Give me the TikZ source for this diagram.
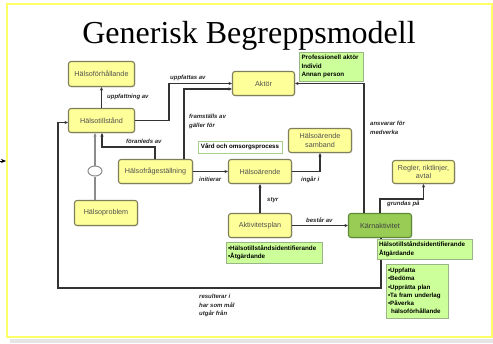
\documentclass[tikz,border=0pt]{standalone}
\usepackage{fontspec}
\setmainfont{Liberation Serif}
\newfontfamily\sansf{Liberation Sans}
\usetikzlibrary{arrows.meta,shadows,calc,shapes.geometric}
\definecolor{boxfill}{HTML}{FFFF99}
\definecolor{boxline}{HTML}{7F7F5A}
\definecolor{boxtext}{HTML}{505050}
\definecolor{kfill}{HTML}{99CC55}
\definecolor{kline}{HTML}{5E8A35}
\definecolor{gfill}{HTML}{CCFF99}
\definecolor{gline}{HTML}{9AB585}
\definecolor{vline}{HTML}{A6D08A}
\definecolor{frame}{HTML}{FFFF66}
\definecolor{conncol}{HTML}{333333}
\definecolor{graycol}{HTML}{8C8C8C}
\begin{document}
\begin{tikzpicture}[x=1pt,y=-1pt,
  ybox/.style={draw=boxline, line width=1.1pt, rounded corners=2.5pt, fill=boxfill,
    drop shadow={shadow xshift=0.8pt, shadow yshift=-0.8pt, opacity=0.25},
    font=\sansf\fontsize{7.2}{8.5}\selectfont, text=boxtext, inner sep=1pt, align=center},
  kbox/.style={ybox, draw=kline, fill=kfill, text=black!75},
  gbox/.style={draw=gline, line width=0.8pt, fill=gfill, inner xsep=2pt, inner ysep=1pt,
    font=\sansf\bfseries\fontsize{6.3}{8.4}\selectfont, text=black, align=left, anchor=center},
  vbox/.style={draw=vline, line width=1pt, fill=white, inner sep=1pt,
    font=\sansf\bfseries\fontsize{6.2}{7}\selectfont, text=black},
  conn/.style={draw=conncol, line width=1.1pt, -{Stealth[length=3.5pt,width=3.2pt]}},
  gconn/.style={draw=graycol, line width=1.1pt},
  lbl/.style={font=\sansf\bfseries\itshape\fontsize{6}{8.5}\selectfont, text=black!85, inner sep=0pt, align=left}
]
\useasboundingbox (0,0) rectangle (493,343);
\fill[white] (0,0) rectangle (493,343);
% shadow under frame
\fill[black!10] (10,339) rectangle (493,343);
\draw[frame, line width=2pt] (7,3.5) rectangle (491.5,337);
% stray arrow at left edge
\coordinate (la) at (0,161);
\coordinate (lb) at (6,161);
\draw[draw=black, line width=0.6pt, -{Stealth[length=5pt,width=4pt]}] (la) -- (lb);

% title
\node[anchor=base, font=\fontsize{32}{36}\selectfont, inner sep=0pt] (title) at (249,43) {Generisk Begreppsmodell};

% yellow boxes
\node[ybox, minimum width=66pt, minimum height=25pt] (hf) at (101.5,74) {Hälsoförhållande};
\node[ybox, minimum width=66pt, minimum height=24pt] (ht) at (101.5,120.5) {Hälsotillstånd};
\node[ybox, minimum width=62pt, minimum height=24pt] (ak) at (263.5,83.5) {Aktör};
\node[ybox, minimum width=63pt, minimum height=24pt] (hs) at (320,140.5) {Hälsoärende\\samband};
\node[ybox, minimum width=74pt, minimum height=24pt] (hq) at (155.5,171.5) {Hälsofrågeställning};
\node[ybox, minimum width=63pt, minimum height=24pt] (ha) at (260,171.5) {Hälsoärende};
\node[ybox, minimum width=63pt, minimum height=25pt] (hp) at (106,213) {Hälsoproblem};
\node[ybox, minimum width=63pt, minimum height=24pt] (ap) at (260,225.5) {Aktivitetsplan};
\node[kbox, minimum width=63pt, minimum height=24pt] (ka) at (380,225.5) {Kärnaktivitet};
\node[ybox, minimum width=62pt, minimum height=23pt] (rg) at (423.5,172) {Regler, riktlinjer,\\avtal};

% ellipse
\node[draw=graycol, line width=1pt, fill=white, ellipse, minimum width=14pt, minimum height=10pt, inner sep=0pt] (el) at (95,171) {};

% connectors
\draw[conn] (ht.north) -- (hf.south);
\node[lbl, anchor=west] (l1) at (107,97) {uppfattning av};

\draw[conn] (ht.east) -- (169,120.5) |- (ak.west);
\node[lbl, anchor=west] (l2) at (170,78) {uppfattas av};

\draw[conn] ([xshift=28.5pt]hq.north) |- ([yshift=-5.5pt]ak.west);
\node[lbl, anchor=north west] (l3) at (189,114) {framställs av\\gäller för};

\draw[conn] ([xshift=-0.5pt]hq.north) -- ++(0,-12) -| ([xshift=0.5pt]ht.south);
\node[lbl, anchor=west] (l4) at (126,141) {föranleds av};

\draw[gconn] (hp.north -| el) -- (el.south);
\draw[gconn, -{Stealth[length=3.5pt,width=3.2pt]}] (el.north) -- (ht.south -| el);

\draw[conn] (hq.east) -- (ha.west);
\node[lbl, anchor=west] (l5) at (199,179.5) {initierar};

\draw[conn] (ha.east) -| (hs.south);
\node[lbl, anchor=west] (l6) at (301,179.5) {ingår i};

\draw[conn] (ap.north) -- (ha.south);
\node[lbl, anchor=west] (l7) at (267,200) {styr};

\draw[conn] (ap.east) -- (ka.west);
\node[lbl, anchor=west] (l8) at (306,220) {består av};

\draw[conn] (ka.north) -- ++(0,-14) -| (rg.south);
\node[lbl, anchor=west] (l9) at (387,204) {grundas på};

\draw[conn] ([xshift=-16pt]ka.north) |- (ak.east);
\node[lbl, anchor=north west] (l10) at (370,121) {ansvarar för\\medverka};

\draw[conn] ([xshift=1pt]ka.south) |- (58,288) |- ([yshift=-2pt]ht.west);
\node[lbl, anchor=north west] (l11) at (199,294) {resulterar i\\har som mål\\utgår från};

% green boxes
\node[gbox, minimum width=64pt, minimum height=29pt, text width=59pt] (g1) at (331,66.5) {Professionell aktör\\Individ\\Annan person};
\node[vbox, minimum width=84pt, minimum height=12pt] (vp) at (240,147) {Vård och omsorgsprocess};
\node[gbox, minimum width=96pt, minimum height=21pt, text width=92pt] (g2) at (274,252.5) {•Hälsotillståndsidentifierande\\•Åtgärdande};
\node[gbox, minimum width=95pt, minimum height=20pt, text width=91pt] (g3) at (424.5,249) {Hälsotillståndsidentifierande\\Åtgärdande};
\node[gbox, minimum width=62pt, minimum height=54pt, text width=58pt, font=\sansf\bfseries\fontsize{6.2}{8.2}\selectfont] (g4) at (417,291) {•Uppfatta\\•Bedöma\\•Upprätta plan\\•Ta fram underlag\\•Påverka\\\hspace*{3pt}hälsoförhållande};
\end{tikzpicture}
\end{document}
